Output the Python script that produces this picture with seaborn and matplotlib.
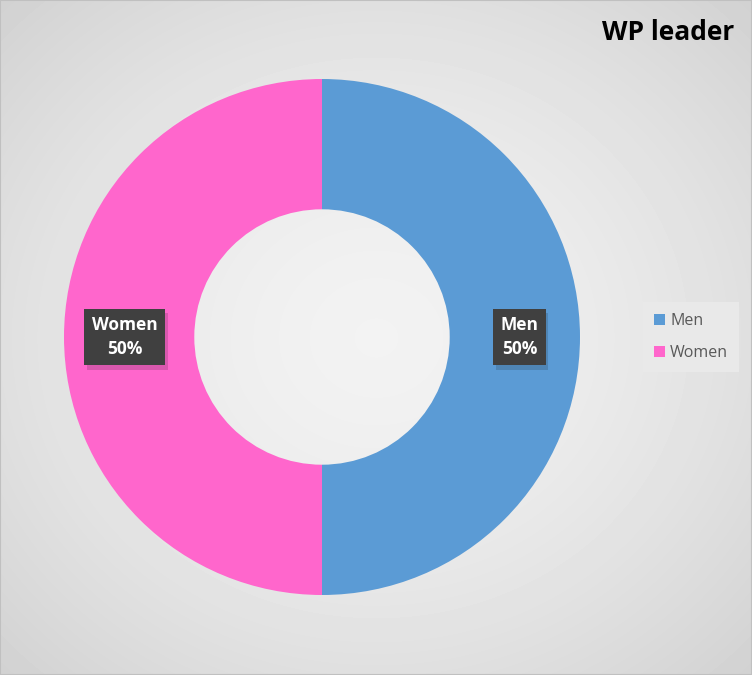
import numpy as np
import matplotlib.pyplot as plt
import matplotlib.patheffects as pe
import seaborn as sns

# data
groups = ["Men", "Women"]
shares = [50, 50]
colors = ["#5B9BD5", "#FF66CC"]
title = "WP leader"

sns.set_theme(style="white")
plt.rcParams['font.family'] = ['Open Sans', 'DejaVu Sans']

W, H = 752, 675
fig = plt.figure(figsize=(W / 100, H / 100), dpi=100)

# radial gray background like the office chart area
bg = fig.add_axes([0, 0, 1, 1])
yy, xx = np.mgrid[0:H, 0:W]
r = np.hypot((xx - W / 2) / (W / 2), (yy - H / 2) / (H / 2)) / np.sqrt(2)
bg.imshow(0.95 - 0.13 * r ** 1.6, cmap="gray", vmin=0, vmax=1, aspect="auto",
          extent=[0, 1, 0, 1])
bg.set_axis_off()
bg.add_patch(plt.Rectangle((0, 0), 1, 1, transform=bg.transAxes, fill=False,
                           edgecolor="#c0c0c0", linewidth=1.5))

# donut
cx, cy, rad = 322, 337, 258
pad = 262
ax = fig.add_axes([(cx - pad) / W, (H - cy - pad) / H, 2 * pad / W, 2 * pad / H])

labels_iter = iter(groups)
wedges, texts, autotexts = ax.pie(
    shares, colors=colors, startangle=90, counterclock=False,
    wedgeprops=dict(width=0.505, edgecolor="none"),
    autopct=lambda p: f"{next(labels_iter)}\n{p:.0f}%", pctdistance=0.765,
    textprops=dict(color="white", fontweight="bold", fontsize=12.5,
                   ha="center", va="center", linespacing=1.45))
ax.set_xlim(-pad / rad, pad / rad)
ax.set_ylim(-pad / rad, pad / rad)
ax.set_aspect("equal")
ax.set_axis_off()

for t in autotexts:
    t.set_bbox(dict(boxstyle="square,pad=0.42", facecolor="#404040",
                    edgecolor="none"))
    t.get_bbox_patch().set_path_effects(
        [pe.SimplePatchShadow(offset=(2, -3), alpha=0.16), pe.Normal()])

# title
fig.text(734 / W, 1 - 33 / H, title, ha="right", va="center",
         fontsize=19, fontweight="bold", color="black")

# legend
leg = fig.legend(wedges, groups, loc="center left",
                 bbox_to_anchor=(643 / W, 1 - 337 / H), frameon=True,
                 fontsize=11.5, handlelength=0.7, handleheight=0.7,
                 handletextpad=0.3, labelspacing=1.0, borderpad=0.7,
                 borderaxespad=0, fancybox=False)
leg.get_frame().set_facecolor("#e9e9e9")
leg.get_frame().set_edgecolor("none")
leg.get_frame().set_alpha(1)
for t in leg.get_texts():
    t.set_color("#595959")

fig.savefig("out.png", dpi=100)
